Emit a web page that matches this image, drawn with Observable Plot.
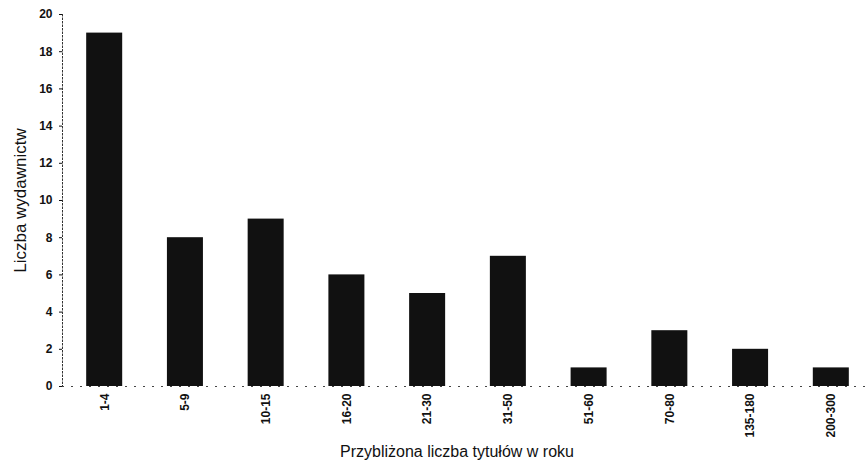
<!DOCTYPE html>
<html>
<head>
<meta charset="utf-8">
<script src="https://cdn.jsdelivr.net/npm/d3@7"></script>
<script src="https://cdn.jsdelivr.net/npm/@observablehq/plot@0.6"></script>
<style>
  html, body { margin: 0; padding: 0; background: #fff; }
  #chart { width: 865px; height: 469px; }
</style>
</head>
<body>
<div id="chart"></div>
<script>
const categories = ["1-4", "5-9", "10-15", "16-20", "21-30", "31-50", "51-60", "70-80", "135-180", "200-300"];
const counts = [19, 8, 9, 6, 5, 7, 1, 3, 2, 1];
const yTicks = [0, 2, 4, 6, 8, 10, 12, 14, 16, 18, 20];
const yLabel = "Liczba wydawnictw";
const xLabel = "Przybliżona liczba tytułów w roku";

const data = categories.map((c, i) => ({cat: c, n: counts[i]}));

const chart = Plot.plot({
  width: 865,
  height: 469,
  marginLeft: 62,
  marginRight: 0,
  marginTop: 14,
  marginBottom: 83,
  style: {fontFamily: "'Liberation Sans', Arial, sans-serif", background: "#fff", color: "#111"},
  x: {domain: categories, range: [66, 869], paddingInner: 0.554, paddingOuter: 0.25, round: false},
  y: {domain: [0, 20]},
  marks: [
    Plot.frame({anchor: "left", stroke: "#333", strokeDasharray: "1.5,2"}),
    Plot.ruleY([0], {stroke: "#444", strokeDasharray: "2,7"}),
    Plot.barY(data, {x: "cat", y: "n", fill: "#111"}),
    Plot.axisY({ticks: yTicks, tickSize: 3, tickPadding: 7, label: null, fontSize: 12, fontWeight: "bold"}),
    Plot.axisX({tickRotate: -90, tickSize: 0, tickPadding: 7, label: null, fontSize: 12, fontWeight: "bold"}),
    Plot.text([yLabel], {frameAnchor: "left", dx: -42, rotate: -90, fontSize: 17, textAnchor: "middle", fill: "#111"}),
    Plot.text([xLabel], {frameAnchor: "bottom", dx: -7, dy: 70, fontSize: 16, textAnchor: "middle", fill: "#111"})
  ]
});
document.getElementById("chart").appendChild(chart);
</script>
</body>
</html>
